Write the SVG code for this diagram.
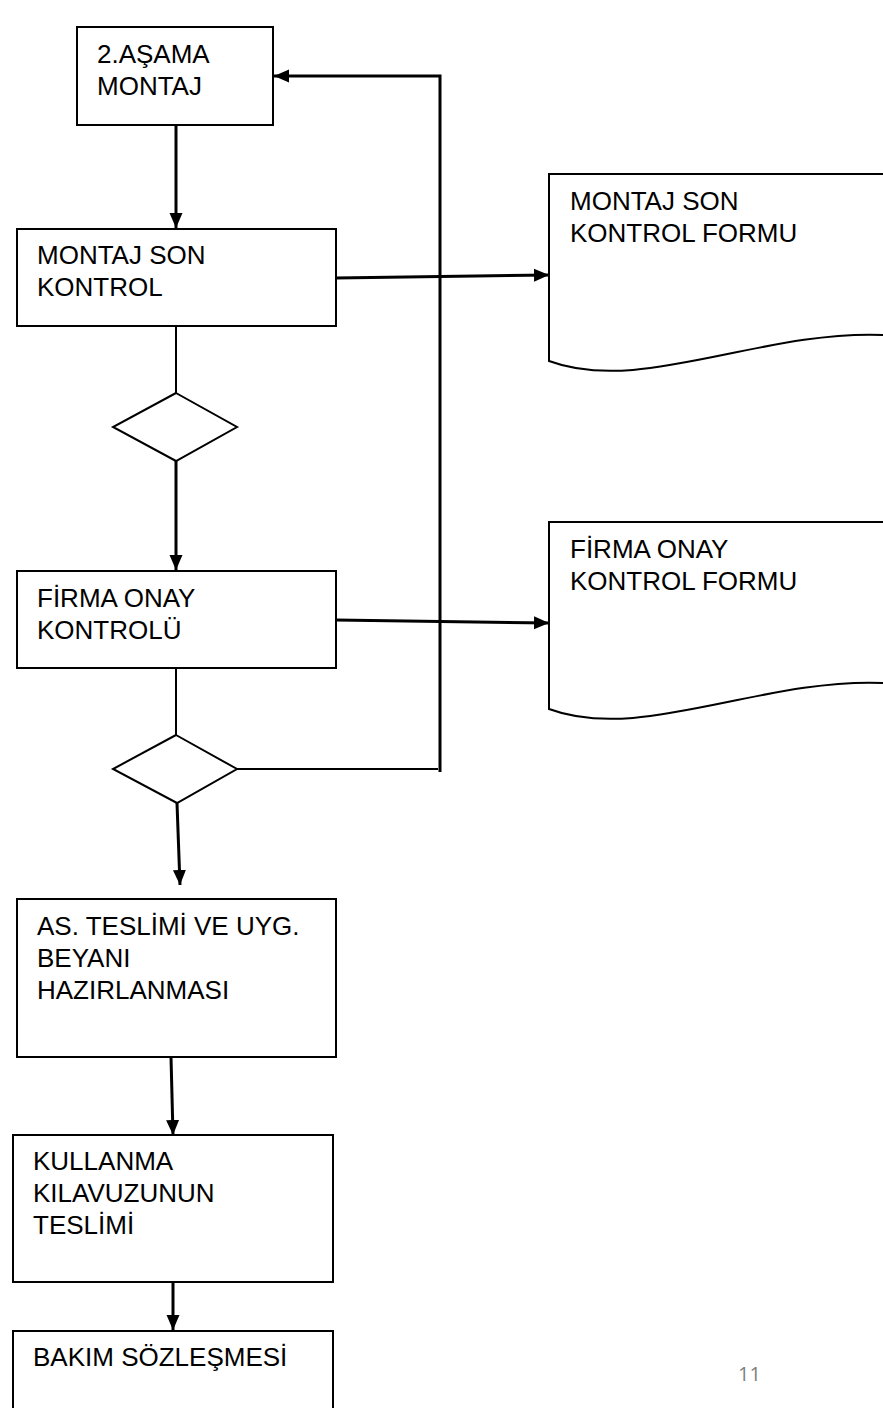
<svg xmlns="http://www.w3.org/2000/svg" width="883" height="1408" viewBox="0 0 883 1408">
<defs>
<style>
.box{fill:#fff;stroke:#000;stroke-width:2}
.lbl{font-family:"Liberation Sans",Arial,sans-serif;font-size:26px;fill:#000}
.ln{fill:none;stroke:#000;stroke-width:2}
.ar{fill:none;stroke:#000;stroke-width:3;marker-end:url(#ah)}
.fb{fill:none;stroke:#000;stroke-width:3}
</style>
<marker id="ah" markerUnits="userSpaceOnUse" markerWidth="16" markerHeight="16" viewBox="0 0 16 16" refX="15" refY="8" orient="auto">
<path d="M0,1.5 L15,8 L0,14.5 Z" fill="#000"/>
</marker>
</defs>
<rect width="883" height="1408" fill="#fff"/>
<g id="connectors">
<line class="ar" x1="176" y1="125" x2="176" y2="228"/>
<line class="ar" x1="336" y1="278" x2="549" y2="275"/>
<line class="ln" x1="176" y1="326" x2="176" y2="393"/>
<line class="ar" x1="176" y1="461" x2="176" y2="570"/>
<line class="ar" x1="336" y1="620" x2="549" y2="623"/>
<line class="ln" x1="176" y1="668" x2="176" y2="735"/>
<line class="ln" x1="237" y1="769" x2="438" y2="769"/>
<polyline class="fb" points="440,772 440,76 300,76"/>
<line class="ar" x1="300" y1="76" x2="274" y2="76"/>
<line class="ar" x1="177" y1="803" x2="180" y2="885"/>
<line class="ar" x1="171" y1="1057" x2="173" y2="1135"/>
<line class="ar" x1="173" y1="1282" x2="173" y2="1330"/>
</g>
<g id="n1">
<rect class="box" x="77" y="27" width="196" height="98"/>
<text class="lbl" x="97" y="63">2.AŞAMA</text>
<text class="lbl" x="97" y="95">MONTAJ</text>
</g>
<g id="n2">
<rect class="box" x="17" y="229" width="319" height="97"/>
<text class="lbl" x="37" y="264">MONTAJ SON</text>
<text class="lbl" x="37" y="296">KONTROL</text>
</g>
<g id="doc1">
<path class="box" d="M549,174 L890,174 L890,335 L883,335 C760,330 640,395 549,361 Z"/>
<text class="lbl" x="570" y="210">MONTAJ SON</text>
<text class="lbl" x="570" y="242">KONTROL FORMU</text>
</g>
<g id="d1">
<polygon class="box" points="176,393 237,427 176,461 113,427"/>
</g>
<g id="n3">
<rect class="box" x="17" y="571" width="319" height="97"/>
<text class="lbl" x="37" y="607">FİRMA ONAY</text>
<text class="lbl" x="37" y="639">KONTROLÜ</text>
</g>
<g id="doc2">
<path class="box" d="M549,522 L890,522 L890,683 L883,683 C760,678 640,743 549,709 Z"/>
<text class="lbl" x="570" y="558">FİRMA ONAY</text>
<text class="lbl" x="570" y="590">KONTROL FORMU</text>
</g>
<g id="d2">
<polygon class="box" points="176,735 237,769 177,803 113,769"/>
</g>
<g id="n4">
<rect class="box" x="17" y="899" width="319" height="158"/>
<text class="lbl" x="37" y="935">AS. TESLİMİ VE UYG.</text>
<text class="lbl" x="37" y="967">BEYANI</text>
<text class="lbl" x="37" y="999">HAZIRLANMASI</text>
</g>
<g id="n5">
<rect class="box" x="13" y="1135" width="320" height="147"/>
<text class="lbl" x="33" y="1170">KULLANMA</text>
<text class="lbl" x="33" y="1202">KILAVUZUNUN</text>
<text class="lbl" x="33" y="1234">TESLİMİ</text>
</g>
<g id="n6">
<rect class="box" x="13" y="1331" width="320" height="90"/>
<text class="lbl" x="33" y="1366">BAKIM SÖZLEŞMESİ</text>
</g>
<text x="738" y="1381" font-family="'Open Sans','Liberation Sans',sans-serif" font-size="20" fill="#7f7f7f">11</text>
</svg>
